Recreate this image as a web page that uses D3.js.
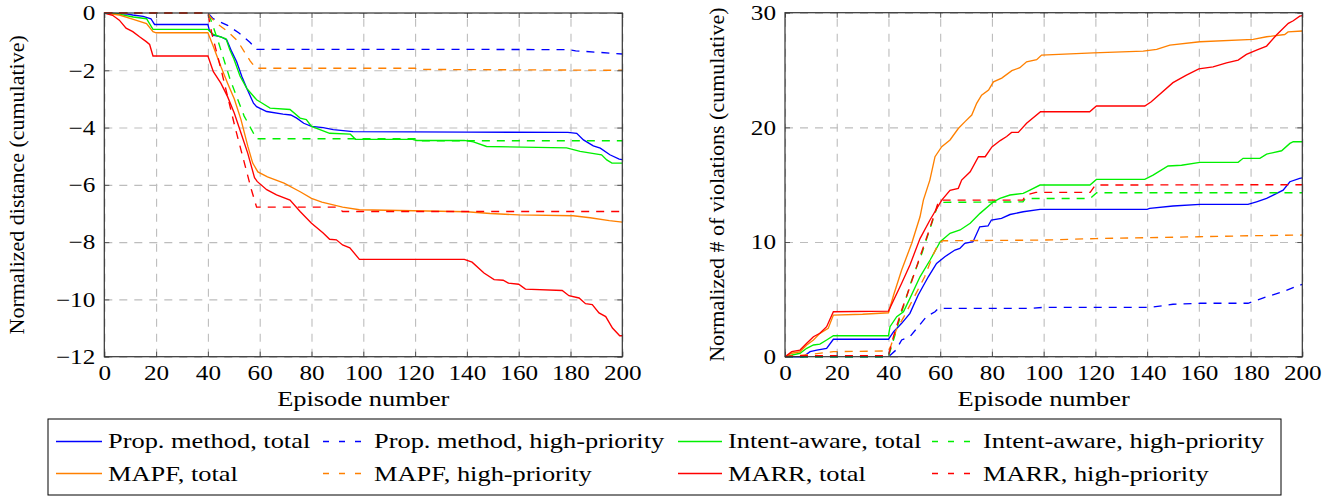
<!DOCTYPE html>
<html><head><meta charset="utf-8">
<script src="https://cdn.jsdelivr.net/npm/d3@7"></script>
<style>body{margin:0;background:#fff} svg text{font-family:"Liberation Serif","Tinos","Times New Roman",Times,"DejaVu Serif",serif !important;fill:#000}</style>
</head><body><svg id="c" width="1344" height="497"></svg>
<script>
// ---------- data ----------
const episodeTicks = [0,20,40,60,80,100,120,140,160,180,200];
const distTicks = [0,-2,-4,-6,-8,-10,-12];
const violTicks = [0,10,20,30];

const seriesNames = ["Prop. method, total","Prop. method, high-priority","Intent-aware, total","Intent-aware, high-priority",
                     "MAPF, total","MAPF, high-priority","MARR, total","MARR, high-priority"];
const seriesColors = ["#0000ff","#0000ff","#00f000","#00f000","#ff8000","#ff8000","#ff0000","#ff0000"];
const seriesDashed = [false,true,false,true,false,true,false,true];

// Left: normalized distance (cumulative), [episode, value]
const distPropTotal = [[0,0],[5,-0.02],[9,-0.04],[11,-0.07],[15,-0.12],[18,-0.2],[19.4,-0.4],[40,-0.4],[40.5,-0.59],[42,-0.77],[45,-0.83],[47.3,-0.94],[49.2,-1.35],[51.1,-1.7],[53.1,-2.22],[55,-2.63],[57.6,-3.15],[58.8,-3.27],[62.7,-3.44],[69,-3.53],[72,-3.56],[74.3,-3.67],[77,-3.85],[80,-3.96],[84.5,-4.0],[88.4,-4.07],[96,-4.14],[140,-4.16],[179,-4.17],[182.4,-4.2],[185,-4.43],[188.8,-4.64],[191.5,-4.72],[195.2,-4.95],[198.8,-5.1],[200,-5.12]];
const distPropHigh = [[0,0],[40,0],[42,-0.2],[47.6,-0.43],[52,-0.7],[56.3,-1.03],[58.8,-1.27],[140,-1.27],[179,-1.28],[182,-1.32],[200,-1.43]];
const distIntentTotal = [[0,0],[5,-0.03],[11.2,-0.14],[16.3,-0.2],[18.8,-0.57],[40,-0.57],[40.5,-0.62],[42.1,-0.75],[47,-0.9],[48.5,-1.29],[50,-1.6],[52.4,-2.2],[55,-2.63],[58.8,-3.03],[61,-3.15],[64,-3.32],[71.7,-3.37],[75.6,-3.67],[78,-3.72],[80,-3.96],[87,-4.2],[95,-4.23],[97,-4.41],[119,-4.41],[120.6,-4.45],[139,-4.45],[142.5,-4.5],[147.6,-4.66],[178.5,-4.71],[183.7,-4.83],[192,-4.95],[194,-5.13],[196,-5.24],[200,-5.24]];
const distIntentHigh = [[0,0],[40,0],[41,-0.2],[44,-1.0],[48.5,-2.3],[51,-2.9],[54,-3.6],[57.6,-4.2],[58.6,-4.39],[120,-4.39],[121,-4.46],[200,-4.46]];
const distMapfTotal = [[0,0],[5.8,-0.07],[11.2,-0.22],[16.3,-0.37],[18.8,-0.65],[20,-0.69],[40,-0.69],[42.1,-1.17],[45,-1.87],[47.6,-2.45],[50.2,-3.0],[52.8,-3.73],[55.4,-4.65],[57.3,-5.24],[59.3,-5.55],[63,-5.72],[69.4,-5.94],[75.8,-6.25],[80,-6.47],[84,-6.6],[88.4,-6.7],[92,-6.78],[98.5,-6.87],[140,-6.94],[149,-7.0],[160,-7.05],[181,-7.08],[187.6,-7.15],[195,-7.25],[200,-7.3]];
const distMapfHigh = [[0,0],[40,0],[41,-0.15],[44,-0.4],[47.3,-0.62],[51.4,-0.97],[56.3,-1.67],[58.5,-1.93],[120,-1.93],[122,-1.97],[200,-2.0]];
const distMarrTotal = [[0,0],[3.2,-0.08],[5.8,-0.25],[8.4,-0.53],[11,-0.65],[13.6,-0.83],[16.2,-1.0],[17.5,-1.1],[18.8,-1.5],[40,-1.5],[42.1,-2.05],[45,-2.45],[47.6,-2.92],[50.2,-3.5],[52.8,-4.2],[55.4,-4.9],[58,-5.75],[59,-5.88],[62.7,-6.17],[66.5,-6.35],[71.7,-6.53],[75.6,-6.93],[80,-7.34],[84.5,-7.68],[87,-7.9],[89.6,-7.92],[92,-8.1],[94.8,-8.2],[98.5,-8.6],[139,-8.6],[142,-8.7],[146.6,-9.08],[150.5,-9.31],[154,-9.33],[156,-9.43],[160,-9.47],[162.6,-9.64],[176.8,-9.69],[179.4,-9.87],[183.3,-9.95],[185.8,-10.15],[188.4,-10.18],[191,-10.47],[193.6,-10.6],[196.2,-11.0],[199,-11.27],[200,-11.27]];
const distMarrHigh = [[0,0],[40,0],[41.5,-0.71],[45.3,-2.05],[50.4,-3.96],[56.8,-6.17],[58.8,-6.78],[90,-6.78],[92,-6.93],[200,-6.93]];

// Right: normalized # of violations (cumulative), [episode, value]
const violPropTotal = [[0,0],[7,0],[9.7,0.44],[12.3,0.58],[16.1,0.73],[18.7,1.52],[40,1.52],[42,2.18],[45.1,2.91],[48.3,3.78],[51.5,5.38],[55.4,6.97],[58.6,8.14],[61.8,8.72],[65.7,9.3],[67.6,9.44],[69.5,9.89],[72.7,10.03],[75.3,11.33],[78.5,11.4],[79.8,11.92],[83.7,12.06],[87,12.4],[92.1,12.64],[98.6,12.85],[140,12.85],[141,12.93],[150,13.14],[160.4,13.28],[179,13.28],[182.3,13.51],[186.2,13.8],[192.6,14.53],[195.2,15.26],[199,15.55],[200,15.6]];
const violPropHigh = [[0,0],[40,0],[41,0.2],[42.9,0.58],[45.1,1.46],[48.3,1.74],[51.5,2.62],[54.7,3.49],[58,3.92],[59.3,4.22],[95,4.22],[99.9,4.3],[139.8,4.3],[142.4,4.34],[150,4.57],[160.4,4.66],[179,4.66],[186.2,5.23],[192.6,5.67],[197.8,6.16],[200,6.3]];
const violIntentTotal = [[0,0],[5.8,0.3],[8.4,0.73],[11,1.02],[13.5,1.1],[16.1,1.46],[18.7,1.83],[40,1.83],[40.6,2.62],[43.2,3.49],[45.8,3.92],[48.3,5.09],[52.2,6.97],[56.1,8.43],[60,10.03],[63.8,10.76],[67.7,11.05],[71.6,11.63],[75.4,12.5],[80.6,13.51],[83.1,13.8],[87,14.1],[92.1,14.25],[94.7,14.53],[98.6,14.97],[117.9,14.97],[120.4,15.46],[139.1,15.46],[142.3,15.84],[148.1,16.63],[153.3,16.7],[160.4,16.95],[175.2,16.95],[177.1,17.3],[183.6,17.3],[186.2,17.67],[192,17.96],[195.2,18.6],[196.5,18.75],[200,18.75]];
const violIntentHigh = [[0,0],[40,0],[42,1.5],[45,3.8],[49,6.7],[52.9,9.0],[56.7,11.6],[59.3,13.37],[60,13.46],[92,13.5],[93,13.8],[118,13.8],[120.5,14.3],[200,14.3]];
const violMapfTotal = [[0,0],[2.6,0.3],[5.8,0.43],[8.4,1.02],[11,1.46],[13.5,2.04],[16.7,2.47],[18.7,3.63],[30,3.7],[40,3.83],[42,5.38],[45.1,7.56],[49,9.89],[52.2,12.2],[53.5,13.66],[56,15.4],[58,17.44],[60.6,18.31],[63.8,18.9],[67,19.9],[69.6,20.5],[72.2,21.07],[74.1,22.1],[76,22.8],[78.7,23.25],[80.6,23.97],[83.8,24.3],[87.7,24.95],[90.8,25.2],[93.4,25.72],[97.3,25.9],[99.2,26.3],[119.2,26.5],[138.5,26.65],[143.7,26.8],[148.8,27.17],[160.4,27.47],[181,27.67],[186.2,27.9],[193.2,28.1],[194.5,28.33],[200,28.4]];
const violMapfHigh = [[0,0],[10,0.2],[18.7,0.44],[40,0.5],[41,1.0],[43,2.33],[46,3.49],[50,5.23],[54,6.97],[57.5,9.0],[59.4,9.89],[61,10.11],[100,10.17],[120,10.3],[140,10.38],[160,10.46],[180,10.55],[200,10.61]];
const violMarrTotal = [[0,0],[2.6,0.44],[5.8,0.58],[8.4,1.17],[11,1.74],[13.5,2.04],[16.1,2.62],[18.7,3.92],[40,3.98],[45.1,6.4],[48.3,8.0],[52.2,10.3],[56,11.9],[60.6,13.66],[63.8,14.5],[67,14.68],[68.3,15.4],[71.6,16.13],[74.8,17.44],[77.4,17.44],[80,18.3],[83.2,18.85],[85.7,19.2],[87.6,19.56],[90.2,19.56],[93.4,20.35],[98.8,21.36],[117.8,21.36],[120.4,21.86],[139.1,21.86],[141.6,22.23],[150,23.9],[155.2,24.56],[160,25.1],[165.5,25.28],[170.7,25.63],[175.2,25.87],[178.4,26.36],[182.3,26.74],[186.2,27.09],[190,28.05],[194.6,29.07],[196.5,29.3],[199,29.7],[200,29.75]];
const violMarrHigh = [[0,0],[5,0.1],[40,0.1],[42,1.8],[45,4.0],[48,5.9],[52,8.6],[56,11.2],[59,13.3],[60,13.66],[92,13.66],[93,14.1],[97,14.33],[118,14.33],[120,14.97],[200,15.0]];

const distSeries = [distPropTotal,distPropHigh,distIntentTotal,distIntentHigh,distMapfTotal,distMapfHigh,distMarrTotal,distMarrHigh];
const violSeries = [violPropTotal,violPropHigh,violIntentTotal,violIntentHigh,violMapfTotal,violMapfHigh,violMarrTotal,violMarrHigh];

// ---------- drawing ----------
const svg = d3.select("#c");
const SX = 1.2;          // horizontal text stretch of the original figure
const FS = 21;

const panels = [
  {left:104.3,right:622.3,top:13,bottom:356.7,yDomain:[-12,0],yTicks:distTicks,series:distSeries,
   ylabel:"Normalized distance (cumulative)",ylabelX:24},
  {left:785,right:1302.3,top:12.7,bottom:356.7,yDomain:[0,30],yTicks:violTicks,series:violSeries,
   ylabel:"Normalized # of violations (cumulative)",ylabelX:724}
];

panels.forEach(p => {
  const x = d3.scaleLinear().domain([0,200]).range([p.left,p.right]);
  const y = d3.scaleLinear().domain(p.yDomain).range([p.bottom,p.top]);
  const h = p.bottom - p.top, w = p.right - p.left;
  const g = svg.append("g");

  // grid
  const gx = g.append("g").attr("transform",`translate(0,${p.bottom})`)
    .call(d3.axisBottom(x).tickValues(episodeTicks).tickSize(-h).tickFormat(""));
  const gy = g.append("g").attr("transform",`translate(${p.left},0)`)
    .call(d3.axisLeft(y).tickValues(p.yTicks).tickSize(-w).tickFormat(""));
  [gx,gy].forEach(a => {
    a.select(".domain").remove();
    a.selectAll("line").attr("stroke","#bdbdbd").attr("stroke-width",1.1).attr("stroke-dasharray","8,7");
  });

  // data
  const line = d3.line().x(d => x(d[0])).y(d => y(d[1]));
  p.series.forEach((s,i) => {
    g.append("path").datum(s).attr("d",line).attr("fill","none")
      .attr("stroke",seriesColors[i]).attr("stroke-width",1.35)
      .attr("stroke-dasharray",seriesDashed[i] ? "8,7" : null);
  });

  // inner ticks on four sides
  const tk = [
    [d3.axisBottom(x).tickValues(episodeTicks), `translate(0,${p.bottom})`],
    [d3.axisTop(x).tickValues(episodeTicks), `translate(0,${p.top})`],
    [d3.axisLeft(y).tickValues(p.yTicks), `translate(${p.left},0)`],
    [d3.axisRight(y).tickValues(p.yTicks), `translate(${p.right},0)`]
  ];
  tk.forEach(([ax,tr]) => {
    const a = g.append("g").attr("transform",tr).call(ax.tickSize(-5).tickFormat(""));
    a.select(".domain").remove();
    a.selectAll("line").attr("stroke","#555").attr("stroke-width",1);
  });

  // frame
  g.append("rect").attr("x",p.left).attr("y",p.top).attr("width",w).attr("height",h)
    .attr("fill","none").attr("stroke","#333").attr("stroke-width",1.2);

  // tick labels
  const lx = g.append("g").attr("transform",`translate(0,${p.bottom})`)
    .call(d3.axisBottom(x).tickValues(episodeTicks).tickSize(0).tickPadding(8));
  const ly = g.append("g").attr("transform",`translate(${p.left},0)`)
    .call(d3.axisLeft(y).tickValues(p.yTicks).tickSize(0).tickPadding(9));
  [lx,ly].forEach(a => {
    a.select(".domain").remove();
    a.attr("font-family",null);
    a.selectAll("text").attr("font-size",FS).attr("fill","#000")
      .attr("transform",`scale(${SX},1)`);
  });
  ly.selectAll("text").attr("x",-9/SX);

  // axis titles
  g.append("text").attr("text-anchor","middle").attr("font-size",22)
    .attr("transform",`translate(${(p.left+p.right)/2},406) scale(${SX},1)`).text("Episode number");
  g.append("text").attr("text-anchor","middle").attr("font-size",22)
    .attr("transform",`translate(${p.ylabelX},${(p.top+p.bottom)/2}) rotate(-90)`).text(p.ylabel);
});

// ---------- legend ----------
const lg = svg.append("g");
lg.append("rect").attr("x",48).attr("y",419).attr("width",1233).attr("height",76)
  .attr("fill","#fff").attr("stroke","#000").attr("stroke-width",1);
const colLine = [[56,102],[323,362],[678,722],[932,971]];
const colText = [108,374,728,983];
const rowLineY = [441.5,473.5];
const rowTextY = [447.5,480.5];
seriesNames.forEach((name,i) => {
  const row = Math.floor(i/4), col = i%4;
  lg.append("line").attr("x1",colLine[col][0]).attr("x2",colLine[col][1])
    .attr("y1",rowLineY[row]).attr("y2",rowLineY[row])
    .attr("stroke",seriesColors[i]).attr("stroke-width",1.6)
    .attr("stroke-dasharray",seriesDashed[i] ? "6,10" : null);
  lg.append("text").attr("font-size",22)
    .attr("transform",`translate(${colText[col]},${rowTextY[row]}) scale(${SX},1)`).text(name);
});
</script></body></html>
